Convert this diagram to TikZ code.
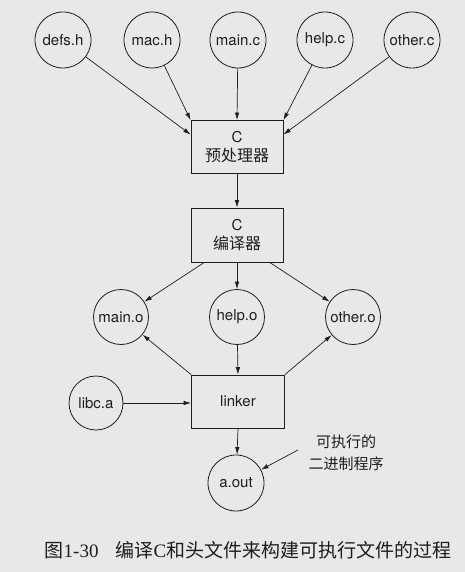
\documentclass[tikz,border=0pt]{standalone}
\usepackage{fontspec}
\setmainfont{Liberation Serif}
\newfontfamily\cjk{Noto Sans CJK SC}
\newfontfamily\lab{TeX Gyre Heros}
\usetikzlibrary{arrows.meta,calc}
\definecolor{paper}{RGB}{232,232,232}
\definecolor{ink}{RGB}{30,30,30}
\tikzset{
  file/.style={circle, draw=ink, line width=0.8pt, minimum size=56pt, inner sep=0pt,
               font=\lab\fontsize{15}{17}\selectfont, text=ink},
  stage/.style={rectangle, draw=ink, line width=0.8pt, minimum width=92pt, minimum height=53pt,
                inner sep=0pt, align=center, text=ink},
  arr/.style={draw=ink, line width=0.7pt, -{Latex[length=7.5pt,width=4.5pt]}},
  hanzi/.style={font=\cjk\fontsize{15}{18}\selectfont},
}
\begin{document}
\begin{tikzpicture}[x=1pt,y=-1pt]
  \fill[paper] (0,0) rectangle (465,572);
  \useasboundingbox (0,0) rectangle (465,572);

  % source and header files
  \node[file] (defs)   at (63,40)  {defs.h};
  \node[file] (mac)    at (152,40) {mac.h};
  \node[file] (mainc)  at (238,40) {main.c};
  \node[file] (helpc)  at (325,40) {help.c};
  \node[file] (otherc) at (412,40) {other.c};

  % preprocessor and compiler
  \node[stage] (pp) at (237,147)
    {{\lab\fontsize{15}{17}\selectfont C}\\[5pt]{\cjk\fontsize{16}{18}\selectfont 预处理器}};
  \node[stage, minimum height=54pt] (cc) at (237,235)
    {{\lab\fontsize{15}{17}\selectfont C}\\[5pt]{\cjk\fontsize{16}{18}\selectfont 编译器}};

  % object files
  \node[file, minimum size=55pt] (maino)  at (121,317) {main.o};
  \node[file, minimum size=55pt] (helpo)  at (237,317) {help.o};
  \node[file, minimum size=55pt] (othero) at (353,317) {other.o};

  % linking stage
  \node[stage, minimum width=93pt] (linker) at (238,401.5)
    {\lab\fontsize{15}{17}\selectfont linker};
  \node[file, minimum size=54pt] (libc) at (96,403) {libc.a};
  \node[file] (aout) at (236,483) {a.out};

  % executable annotation
  \node[hanzi, align=center, text=ink] (exe) at (346,453)
    {可执行的\\[4pt]二进制程序};
  \coordinate (ptr) at (298,450);

  % connectors
  \draw[arr] (defs)   -- (pp.165);
  \draw[arr] (mac)    -- (pp.north west);
  \draw[arr] (mainc)  -- (pp.north);
  \draw[arr] (helpc)  -- (pp.north east);
  \draw[arr] (otherc) -- (pp.15);
  \draw[arr] (pp.south) -- (cc.north);
  \draw[arr] (cc.220)   -- (maino);
  \draw[arr] (cc.south) -- (helpo);
  \draw[arr] (cc.320)   -- (othero);
  \draw[arr] (linker.north west) -- (maino);
  \draw[arr] (linker.north east) -- (othero);
  \draw[arr] (helpo) -- (linker.north);
  \draw[arr] (libc) -- (libc -| linker.west);
  \draw[arr] (linker.south) -- (aout);
  \draw[arr] (ptr) -- (aout);

  % caption
  \node[text=ink, font=\fontsize{19}{22}\selectfont] (caption) at (248,550)
    {{\cjk 图}1-30\hspace{0.9em}{\cjk 编译}C{\cjk 和头文件来构建可执行文件的过程}};
\end{tikzpicture}
\end{document}
